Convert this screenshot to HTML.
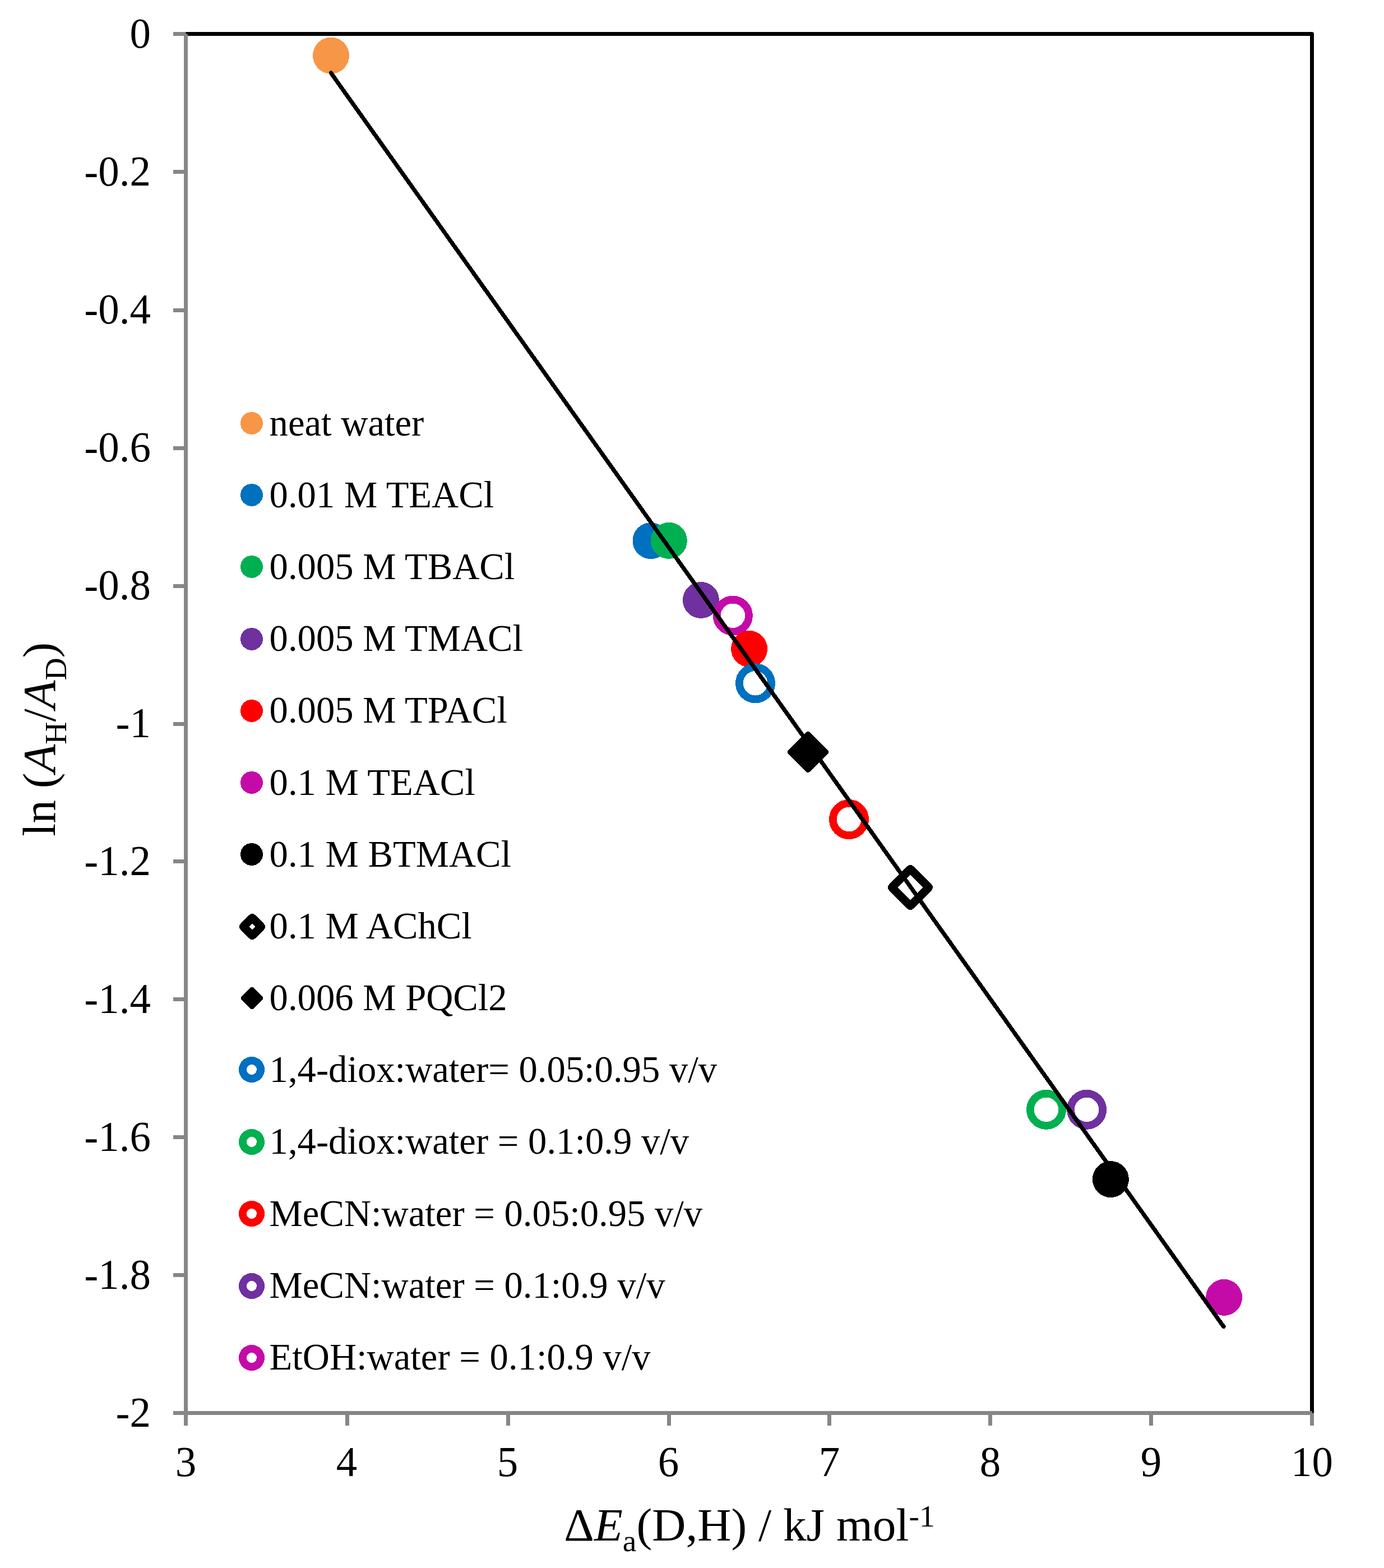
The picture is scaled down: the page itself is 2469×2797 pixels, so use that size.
<!DOCTYPE html>
<html lang="en"><head><meta charset="utf-8"><title>ln(AH/AD) vs ΔEa(D,H)</title>
<style>
html,body{margin:0;padding:0;background:#fff;}
body{width:2469px;height:2797px;overflow:hidden;}
svg{display:block;}
text{font-family:"Liberation Serif", serif;fill:#000;}
.tick{font-size:75px;}
.leg{font-size:66.67px;}
.ttl{font-size:83.33px;}
.sub{font-size:55.56px;}
.it{font-style:italic;}
</style></head><body>
<svg width="2469" height="2797" viewBox="0 0 2469 2797">
<rect x="0" y="0" width="2469" height="2797" fill="#fff"/>
<g fill="none" stroke="#000" stroke-width="7">
<path d="M331.5 60.5H2340.5V2520.5H331.5Z" stroke-linejoin="round"/>
</g>
<g fill="none" stroke="#868686" stroke-width="7">
<path d="M331.5 60.5V2543.0"/>
<path d="M309.0 2520.5H2340.5"/>
<path d="M309.0 60.5H331.5"/>
<path d="M309.0 306.5H331.5"/>
<path d="M309.0 553.5H331.5"/>
<path d="M309.0 799.5H331.5"/>
<path d="M309.0 1045.5H331.5"/>
<path d="M309.0 1291.5H331.5"/>
<path d="M309.0 1536.5H331.5"/>
<path d="M309.0 1782.5H331.5"/>
<path d="M309.0 2028.5H331.5"/>
<path d="M309.0 2274.5H331.5"/>
<path d="M619.5 2520.5V2543.0"/>
<path d="M906.5 2520.5V2543.0"/>
<path d="M1193.5 2520.5V2543.0"/>
<path d="M1479.5 2520.5V2543.0"/>
<path d="M1766.5 2520.5V2543.0"/>
<path d="M2053.5 2520.5V2543.0"/>
<path d="M2340.5 2520.5V2543.0"/>
</g>
<g class="tick" text-anchor="end">
<text transform="translate(269 85.20) scale(1 1.025)">0</text>
<text transform="translate(269 331.20) scale(1 1.025)">-0.2</text>
<text transform="translate(269 577.20) scale(1 1.025)">-0.4</text>
<text transform="translate(269 823.20) scale(1 1.025)">-0.6</text>
<text transform="translate(269 1069.20) scale(1 1.025)">-0.8</text>
<text transform="translate(269 1315.20) scale(1 1.025)">-1</text>
<text transform="translate(269 1561.20) scale(1 1.025)">-1.2</text>
<text transform="translate(269 1807.20) scale(1 1.025)">-1.4</text>
<text transform="translate(269 2053.20) scale(1 1.025)">-1.6</text>
<text transform="translate(269 2299.20) scale(1 1.025)">-1.8</text>
<text transform="translate(269 2545.20) scale(1 1.025)">-2</text>
</g>
<g class="tick" text-anchor="middle">
<text transform="translate(331.50 2633) scale(1 1.025)">3</text>
<text transform="translate(618.50 2633) scale(1 1.025)">4</text>
<text transform="translate(905.50 2633) scale(1 1.025)">5</text>
<text transform="translate(1192.50 2633) scale(1 1.025)">6</text>
<text transform="translate(1479.50 2633) scale(1 1.025)">7</text>
<text transform="translate(1766.50 2633) scale(1 1.025)">8</text>
<text transform="translate(2053.50 2633) scale(1 1.025)">9</text>
<text transform="translate(2340.50 2633) scale(1 1.025)">10</text>
</g>
<g shape-rendering="crispEdges">
<circle cx="590.5" cy="99.1" r="32.5" fill="#F79646"/>
<circle cx="1161.0" cy="964.6" r="32.5" fill="#0070C0"/>
<circle cx="1193.4" cy="964.4" r="32.5" fill="#00B050"/>
<circle cx="1250.5" cy="1070.5" r="32.5" fill="#7030A0"/>
<circle cx="1307.4" cy="1098.2" r="28.6" fill="#fff" stroke="#C40BA8" stroke-width="13.8"/>
<circle cx="1336.6" cy="1157.4" r="32.5" fill="#FF0000"/>
<circle cx="1347.5" cy="1218.8" r="28.6" fill="#fff" stroke="#0070C0" stroke-width="13.8"/>
<path d="M1441.5 1309.7L1473.3 1341.5L1441.5 1373.3L1409.7 1341.5Z" fill="#000000" stroke="#000000" stroke-width="9.4" stroke-linejoin="round"/>
<circle cx="1514.5" cy="1461.6" r="28.6" fill="#fff" stroke="#FF0000" stroke-width="13.8"/>
<path d="M1624.0 1550.3L1656.7 1583.0L1624.0 1615.7L1591.3 1583.0Z" fill="#fff" stroke="#000000" stroke-width="14.6" stroke-linejoin="round"/>
<circle cx="1866.5" cy="1979.3" r="28.6" fill="#fff" stroke="#00B050" stroke-width="13.8"/>
<circle cx="1938.6" cy="1979.3" r="28.6" fill="#fff" stroke="#7030A0" stroke-width="13.8"/>
<circle cx="1981.4" cy="2103.6" r="32.5" fill="#000000"/>
<circle cx="2183.6" cy="2314.4" r="32.5" fill="#C40BA8"/>
</g>
<path d="M590.35 130L2182.85 2366.45" fill="none" stroke="#000" stroke-width="7.4" stroke-linecap="round" shape-rendering="crispEdges"/>
<g class="leg" shape-rendering="crispEdges">
<circle cx="449.0" cy="755" r="20.0" fill="#F79646"/>
<text transform="translate(480.6 776.75) scale(1 1.028)">neat water</text>
<circle cx="449.0" cy="883" r="20.0" fill="#0070C0"/>
<text transform="translate(480.6 904.92) scale(1 1.028)">0.01 M TEACl</text>
<circle cx="449.0" cy="1011" r="20.0" fill="#00B050"/>
<text transform="translate(480.6 1033.09) scale(1 1.028)">0.005 M TBACl</text>
<circle cx="449.0" cy="1140" r="20.0" fill="#7030A0"/>
<text transform="translate(480.6 1161.26) scale(1 1.028)">0.005 M TMACl</text>
<circle cx="449.0" cy="1268" r="20.0" fill="#FF0000"/>
<text transform="translate(480.6 1289.43) scale(1 1.028)">0.005 M TPACl</text>
<circle cx="449.0" cy="1396" r="20.0" fill="#C40BA8"/>
<text transform="translate(480.6 1417.60) scale(1 1.028)">0.1 M TEACl</text>
<circle cx="449.0" cy="1524" r="20.0" fill="#000000"/>
<text transform="translate(480.6 1545.77) scale(1 1.028)">0.1 M BTMACl</text>
<path d="M450.0 1637.1L465.9 1653L450.0 1668.9L434.1 1653Z" fill="#fff" stroke="#000000" stroke-width="14.4" stroke-linejoin="round"/>
<text transform="translate(480.6 1673.94) scale(1 1.028)">0.1 M AChCl</text>
<path d="M449.5 1764.65L465.35 1780.5L449.5 1796.35L433.65 1780.5Z" fill="#000000" stroke="#000000" stroke-width="7.6" stroke-linejoin="round"/>
<text transform="translate(480.6 1802.11) scale(1 1.028)">0.006 M PQCl2</text>
<circle cx="449.0" cy="1908" r="16.0" fill="#fff" stroke="#0070C0" stroke-width="14.0"/>
<text transform="translate(480.6 1930.28) scale(1 1.028)">1,4-diox:water= 0.05:0.95 v/v</text>
<circle cx="449.0" cy="2037" r="16.0" fill="#fff" stroke="#00B050" stroke-width="14.0"/>
<text transform="translate(480.6 2058.45) scale(1 1.028)">1,4-diox:water = 0.1:0.9 v/v</text>
<circle cx="449.0" cy="2165" r="16.0" fill="#fff" stroke="#FF0000" stroke-width="14.0"/>
<text transform="translate(480.6 2186.62) scale(1 1.028)">MeCN:water = 0.05:0.95 v/v</text>
<circle cx="449.0" cy="2294" r="16.0" fill="#fff" stroke="#7030A0" stroke-width="14.0"/>
<text transform="translate(480.6 2314.79) scale(1 1.028)">MeCN:water = 0.1:0.9 v/v</text>
<circle cx="449.0" cy="2422" r="16.0" fill="#fff" stroke="#C40BA8" stroke-width="14.0"/>
<text transform="translate(480.6 2442.96) scale(1 1.028)">EtOH:water = 0.1:0.9 v/v</text>
</g>
<text class="ttl" x="1006.3" y="2747.6">Δ<tspan class="it">E</tspan><tspan class="sub" dy="19.5">a</tspan><tspan dy="-19.5">(D,H) / kJ mol</tspan><tspan class="sub" dy="-24.9">-1</tspan></text>
<text class="ttl" transform="translate(98 1492) rotate(-90)">ln (<tspan class="it">A</tspan><tspan class="sub" dy="19.5">H</tspan><tspan dy="-19.5">/</tspan><tspan class="it">A</tspan><tspan class="sub" dy="19.5">D</tspan><tspan dy="-19.5">)</tspan></text>
</svg></body></html>
